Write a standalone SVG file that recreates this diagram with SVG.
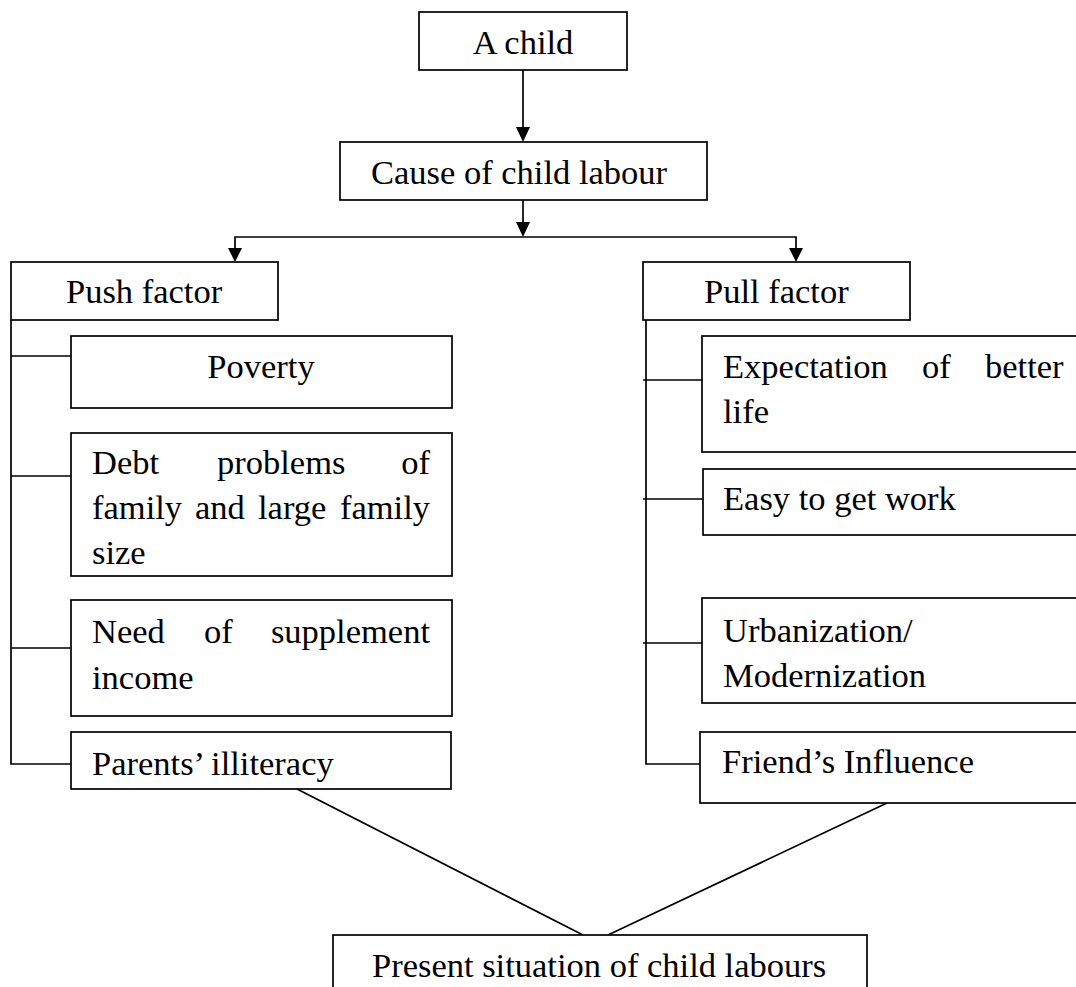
<svg xmlns="http://www.w3.org/2000/svg" width="1076" height="987" viewBox="0 0 1076 987">
<style>
.box{fill:#fff;stroke:#000;stroke-width:1.7}
.ln{fill:none;stroke:#000;stroke-width:1.7}
text{font-family:"Liberation Serif","Times New Roman",serif;font-size:34.5px;fill:#000}
.c{text-anchor:middle}
.e{text-anchor:end}
</style>
<defs>
<clipPath id="debtclip"><rect x="71" y="433" width="381" height="133"/></clipPath>
</defs>
<rect width="1076" height="987" fill="#fff"/>

<g id="connectors">
<path class="ln" d="M523,70 V127"/>
<path d="M516,127 H530 L523,142 Z" fill="#000"/>
<path class="ln" d="M523,200 V222"/>
<path d="M516,222 H530 L523,237 Z" fill="#000"/>
<path class="ln" d="M235,249 V237 H796 V249"/>
<path d="M228,248 H242 L235,262 Z" fill="#000"/>
<path d="M789,248 H803 L796,262 Z" fill="#000"/>
<path class="ln" d="M11,320 V764 H71"/>
<path class="ln" d="M11,356 H71 M11,476 H71 M11,648 H71"/>
<path class="ln" d="M646,320 V764 H700"/>
<path class="ln" d="M643,380 H702 M643,499 H703 M643,643 H702"/>
<path class="ln" d="M297,789 L583,935"/>
<path class="ln" d="M887,803 L608,935"/>
</g>

<g id="node-child">
<rect class="box" x="419" y="12" width="208" height="58"/>
<text class="c" x="523" y="54">A child</text>
</g>
<g id="node-cause">
<rect class="box" x="340" y="142" width="367" height="58"/>
<text x="371" y="184">Cause of child labour</text>
</g>
<g id="node-push">
<rect class="box" x="11" y="262" width="267" height="58"/>
<text x="66" y="303">Push factor</text>
</g>
<g id="node-pull">
<rect class="box" x="643" y="262" width="267" height="58"/>
<text x="704" y="303">Pull factor</text>
</g>
<g id="node-poverty">
<rect class="box" x="71" y="336" width="381" height="72"/>
<text class="c" x="261" y="378">Poverty</text>
</g>
<g id="node-debt">
<rect class="box" x="71" y="433" width="381" height="143"/>
<text x="92" y="474">Debt</text>
<text x="217" y="474">problems</text>
<text class="e" x="430" y="474">of</text>
<text x="92" y="519">family</text>
<text x="195" y="519">and</text>
<text x="258" y="519">large</text>
<text class="e" x="430" y="519">family</text>
<text x="92" y="564" clip-path="url(#debtclip)">size</text>
</g>
<g id="node-need">
<rect class="box" x="71" y="600" width="381" height="116"/>
<text x="92" y="643">Need</text>
<text x="204" y="643">of</text>
<text class="e" x="430" y="643">supplement</text>
<text x="92" y="689">income</text>
</g>
<g id="node-parents">
<rect class="box" x="71" y="732" width="380" height="57"/>
<text x="92" y="775">Parents’ illiteracy</text>
</g>
<g id="node-expectation">
<rect class="box" x="702" y="336" width="380" height="116"/>
<text x="723" y="378">Expectation</text>
<text x="922" y="378">of</text>
<text x="985" y="378">better</text>
<text x="723" y="423">life</text>
</g>
<g id="node-easy">
<rect class="box" x="703" y="469" width="380" height="66"/>
<text x="723" y="510">Easy to get work</text>
</g>
<g id="node-urban">
<rect class="box" x="702" y="598" width="380" height="105"/>
<text x="723" y="642">Urbanization/</text>
<text x="723" y="687">Modernization</text>
</g>
<g id="node-friend">
<rect class="box" x="700" y="732" width="382" height="71"/>
<text x="722" y="773">Friend’s Influence</text>
</g>
<g id="node-present">
<rect class="box" x="333" y="935" width="534" height="60"/>
<text x="372" y="977">Present situation of child labours</text>
</g>
</svg>
